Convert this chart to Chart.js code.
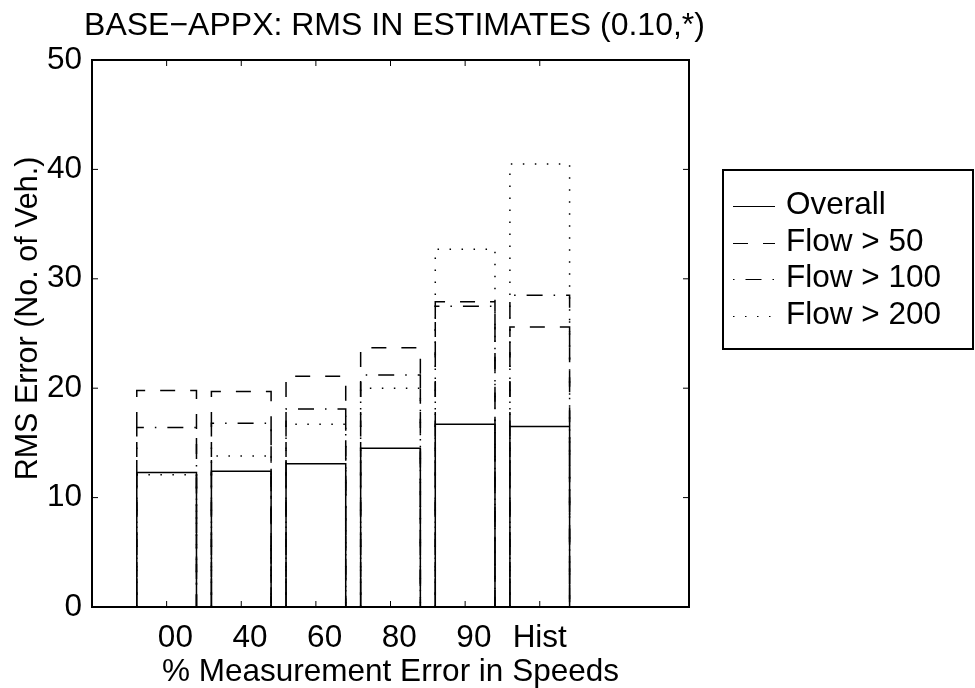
<!DOCTYPE html>
<html>
<head>
<meta charset="utf-8">
<title>BASE-APPX RMS</title>
<script src="https://cdn.jsdelivr.net/npm/chart.js@4/dist/chart.umd.min.js"></script>
<style>
  html, body { margin: 0; padding: 0; background: #fff; }
  #wrap { width: 975px; height: 688px; position: relative; }
</style>
</head>
<body>
<div id="wrap"><canvas id="rmsChart"></canvas></div>
<script>
// speed measurement error levels on the x axis
const categories = ['00', '40', '60', '80', '90', 'Hist'];

// RMS error (vehicles) per level
const overall = [12.3, 12.4, 13.1, 14.5, 16.7, 16.5];
const flow50 = [19.8, 19.7, 21.1, 23.7, 27.9, 25.6];
const flow100 = [16.4, 16.8, 18.1, 21.2, 27.5, 28.5];
const flow200 = [12.1, 13.8, 16.7, 20.0, 32.7, 40.5];

const seriesLabels = ['Overall', 'Flow > 50', 'Flow > 100', 'Flow > 200'];
const yTicks = [0, 10, 20, 30, 40, 50];
const chartTitle = 'BASE\u2212APPX: RMS IN ESTIMATES (0.10,*)';
const yTitle = 'RMS Error (No. of Veh.)';

const FONT = '"Liberation Sans", Arial, Helvetica, sans-serif';
const SIZE = 31.5;

Chart.defaults.font.family = FONT;
Chart.defaults.font.size = SIZE;
Chart.defaults.color = '#000';

const dashes = [[], [15, 15], [1.5, 11, 16, 11], [1.5, 10.5]];

function toPoints(values) {
    return values.map((v, i) => ({ x: i + 1, y: v }));
}

const datasets = [overall, flow50, flow100, flow200].map((values, i) => ({
    label: seriesLabels[i],
    data: toPoints(values),
    backgroundColor: 'rgba(0,0,0,0)',
    borderWidth: 0,
    dash: dashes[i]
}));

// --- bars are drawn as open outlines with MATLAB style line patterns ---
const outlineBars = {
    id: 'outlineBars',
    afterDatasetsDraw(chart) {
        const ctx = chart.ctx;
        chart.data.datasets.forEach((ds, i) => {
            const meta = chart.getDatasetMeta(i);
            ctx.save();
            ctx.strokeStyle = '#000';
            ctx.lineWidth = 1.5;
            ctx.lineCap = 'butt';
            ctx.setLineDash(ds.dash);
            meta.data.forEach(bar => {
                const { x, y, base, width } = bar.getProps(['x', 'y', 'base', 'width'], true);
                const left = x - width / 2;
                const right = x + width / 2;
                ctx.beginPath();
                ctx.moveTo(left, base);
                ctx.lineTo(left, y);
                ctx.lineTo(right, y);
                ctx.lineTo(right, base);
                ctx.stroke();
            });
            ctx.restore();
        });
    }
};

// --- axes box with inward ticks, title, y label and the boxed legend ---
const boxAndLegend = {
    id: 'boxAndLegend',
    afterDraw(chart) {
        const { ctx, chartArea: a, scales } = chart;
        const seg = (x1, y1, x2, y2) => {
            ctx.beginPath();
            ctx.moveTo(x1, y1);
            ctx.lineTo(x2, y2);
            ctx.stroke();
        };
        ctx.save();
        ctx.strokeStyle = '#000';
        ctx.lineWidth = 1;
        yTicks.forEach(v => {
            const py = scales.y.getPixelForValue(v);
            seg(a.left, py, a.left + 6, py);
            seg(a.right, py, a.right - 6, py);
        });
        categories.forEach((c, i) => {
            const px = scales.x.getPixelForValue(i + 1);
            seg(px, a.bottom, px, a.bottom - 6);
            seg(px, a.top, px, a.top + 6);
        });
        ctx.lineWidth = 2;
        ctx.strokeRect(a.left, a.top, a.right - a.left, a.bottom - a.top);

        ctx.fillStyle = '#000';

        // title, wider than the plot so it is not squeezed into it
        ctx.font = '32px ' + FONT;
        ctx.textAlign = 'center';
        ctx.textBaseline = 'alphabetic';
        ctx.fillText(chartTitle, (a.left + a.right) / 2 + 4, 35);

        // y axis label, sits a little above the axis middle
        ctx.save();
        ctx.translate(37, (a.top + a.bottom) / 2 - 15);
        ctx.rotate(-Math.PI / 2);
        ctx.font = '30.5px ' + FONT;
        ctx.fillText(yTitle, 0, 0);
        ctx.restore();

        // legend
        const lx = 723, ly = 170, lw = 250, lh = 179;
        ctx.strokeRect(lx, ly, lw, lh);
        ctx.font = SIZE + 'px ' + FONT;
        ctx.textAlign = 'left';
        ctx.textBaseline = 'middle';
        chart.data.datasets.forEach((ds, i) => {
            const rowY = Math.round(206 + i * 36.7) + 0.5;
            ctx.lineWidth = 1;
            ctx.setLineDash(ds.dash);
            seg(733, rowY, 775, rowY);
            ctx.setLineDash([]);
            ctx.fillText(ds.label, 786, rowY - 1);
        });
        ctx.restore();
    }
};

new Chart(document.getElementById('rmsChart'), {
    type: 'bar',
    data: { datasets },
    plugins: [outlineBars, boxAndLegend],
    options: {
        responsive: true,
        maintainAspectRatio: false,
        animation: false,
        grouped: false,
        categoryPercentage: 1,
        barPercentage: 0.8,
        layout: { padding: { left: 0, right: 286, top: 60, bottom: 0 } },
        plugins: {
            legend: { display: false },
            tooltip: { enabled: false },
            title: { display: false }
        },
        scales: {
            x: {
                type: 'linear',
                offset: false,
                min: 0,
                max: 8,
                grid: { display: false, drawTicks: false, offset: false },
                border: { display: false },
                ticks: {
                    stepSize: 1,
                    autoSkip: false,
                    maxRotation: 0,
                    padding: 12,
                    callback: v => (categories[v - 1] || '').padStart(4)
                },
                title: {
                    display: true,
                    text: '% Measurement Error in Speeds',
                    font: { size: SIZE, lineHeight: 1 },
                    padding: { top: 0, bottom: 0 }
                },
                afterFit: s => { s.height = 81; }
            },
            y: {
                min: 0,
                max: 50,
                grid: { display: false, drawTicks: false },
                border: { display: false },
                ticks: { stepSize: 10, padding: 10 },
                afterFit: s => { s.width = 92; }
            }
        }
    }
});
</script>
</body>
</html>
